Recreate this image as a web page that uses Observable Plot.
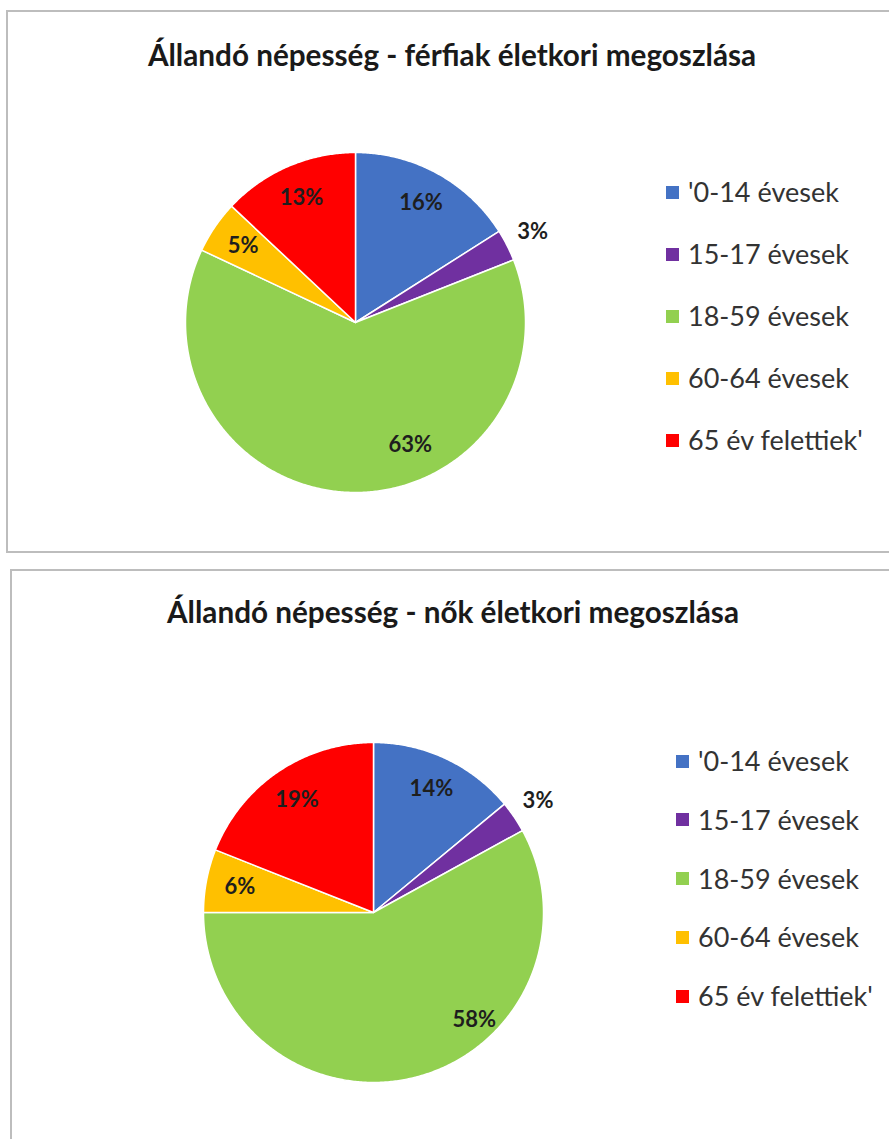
<!DOCTYPE html>
<html><head><meta charset="utf-8">
<script src="https://cdn.jsdelivr.net/npm/d3@7"></script>
<script src="https://cdn.jsdelivr.net/npm/@observablehq/plot@0.6"></script>
<style>
body{margin:0;background:#fff;width:889px;height:1139px;overflow:hidden;position:relative;font-family:Lato,"Open Sans",sans-serif;}
.panel{position:absolute;border:2px solid #bdbdbd;border-right:none;box-sizing:border-box;background:#fff;}
.title{position:absolute;white-space:nowrap;font-weight:bold;font-size:29.7px;line-height:34px;color:#1a1a1a;transform:translateX(-50%);}
.legend-item{position:absolute;display:flex;align-items:center;font-size:27px;line-height:32px;color:#333;white-space:nowrap;}
.sw{width:13px;height:13px;margin-right:9px;flex:none;}
.pie{position:absolute;}
</style></head><body>
<script>
const categories = ["'0-14 évesek", "15-17 évesek", "18-59 évesek", "60-64 évesek", "65 év felettiek'"];
const colors = ["#4472C4", "#7030A0", "#92D050", "#FFC000", "#FF0000"];
const menValues = [16, 3, 63, 5, 13];
const womenValues = [14, 3, 58, 6, 19];
const titles = ["Állandó népesség - férfiak életkori megoszlása", "Állandó népesség - nők életkori megoszlása"];

function makePie(values, bigDx, bigDy) {
  const total = d3.sum(values);
  let cum = 0;
  const slices = values.map((v, i) => {
    const a0 = cum / total * 2 * Math.PI; cum += v;
    const a1 = cum / total * 2 * Math.PI;
    return {cat: categories[i], value: v, a0, a1};
  });
  const pts = [];
  for (const s of slices) {
    pts.push({cat: s.cat, x: 0, y: 0});
    const n = Math.max(2, Math.ceil((s.a1 - s.a0) / (Math.PI / 360)));
    for (let k = 0; k <= n; k++) {
      const a = s.a0 + (s.a1 - s.a0) * k / n;
      pts.push({cat: s.cat, x: Math.sin(a), y: Math.cos(a)});
    }
  }
  const maxV = d3.max(values);
  const labels = slices.map(s => {
    const m = (s.a0 + s.a1) / 2;
    const r = s.value / total < 0.04 ? 1.17 : 0.8;
    return {...s, x: r * Math.sin(m), y: r * Math.cos(m), text: s.value + "%", big: s.value === maxV};
  });
  const txt = {x: "x", y: "y", text: "text", fontSize: 22, fontWeight: "bold", fill: "#1e1e1e"};
  return Plot.plot({
    width: 400, height: 400, margin: 30,
    style: {fontFamily: "Lato, sans-serif", background: "transparent"},
    x: {domain: [-1, 1], axis: null},
    y: {domain: [-1, 1], axis: null},
    color: {domain: categories, range: colors},
    marks: [
      Plot.line(pts, {x: "x", y: "y", z: "cat", fill: "cat", stroke: "white", strokeWidth: 1.5, curve: "linear-closed"}),
      Plot.text(labels.filter(d => !d.big), txt),
      Plot.text(labels.filter(d => d.big), {...txt, dx: bigDx, dy: bigDy})
    ]
  });
}

function el(cls, style, text) {
  const e = document.createElement("div");
  e.className = cls;
  Object.assign(e.style, style);
  if (text != null) e.textContent = text;
  document.body.appendChild(e);
  return e;
}

const layouts = [
  {values: menValues, title: titles[0], panel: {left: "6px", top: "10px", width: "900px", height: "543px"},
   titleX: 452, titleY: 38, cx: 355, cy: 322, legX: 666, legY0: 192, legStep: 62, bigDx: 59, bigDy: -13},
  {values: womenValues, title: titles[1], panel: {left: "10px", top: "569px", width: "900px", height: "700px"},
   titleX: 453, titleY: 595, cx: 373, cy: 912, legX: 676, legY0: 761, legStep: 58.8, bigDx: 67, bigDy: -24}
];

for (const L of layouts) {
  el("panel", L.panel);
  el("title", {left: L.titleX + "px", top: L.titleY + "px"}, L.title);
  const svg = makePie(L.values, L.bigDx, L.bigDy);
  svg.classList.add("pie");
  svg.style.left = (L.cx - 200) + "px";
  svg.style.top = (L.cy - 200) + "px";
  svg.style.position = "absolute";
  document.body.appendChild(svg);
  categories.forEach((c, i) => {
    const item = el("legend-item", {left: L.legX + "px", top: (L.legY0 + i * L.legStep - 16) + "px"});
    const sw = document.createElement("span");
    sw.className = "sw"; sw.style.background = colors[i];
    item.appendChild(sw);
    const t = document.createElement("span"); t.textContent = c;
    item.appendChild(t);
  });
}
</script>
</body></html>
